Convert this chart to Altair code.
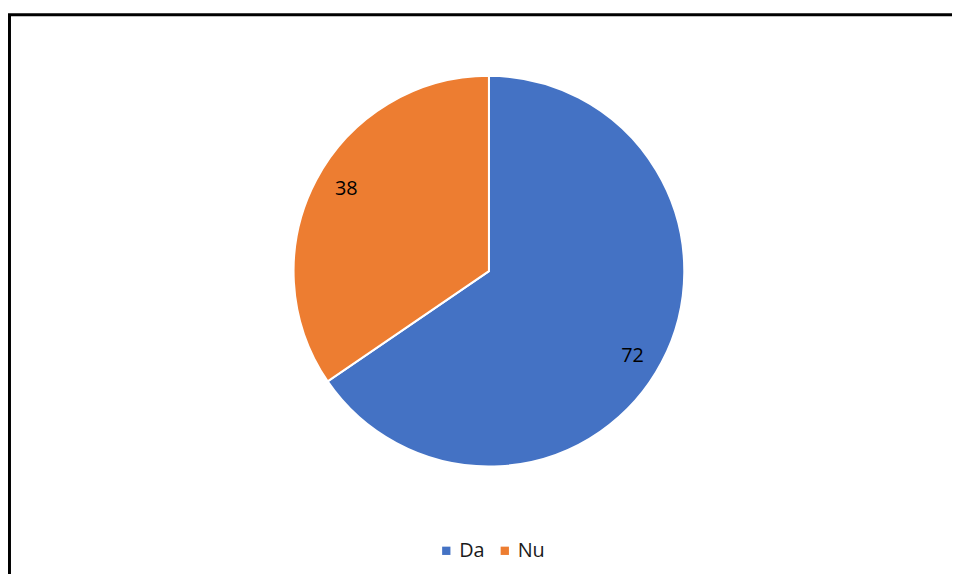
import altair as alt
import pandas as pd

categories = ["Da", "Nu"]
values = [72, 38]
colors = ["#4472C4", "#ED7D31"]

df = pd.DataFrame({"cat": categories, "val": values, "ord": [0, 1]})

W, H = 952, 566
CX, CY = 485, 263
R = 197

base = alt.Chart(df).encode(
    theta=alt.Theta("val:Q", stack=True),
    order=alt.Order("ord:Q"),
)

pie = base.mark_arc(outerRadius=R, stroke="white", strokeWidth=2).encode(
    x=alt.value(CX),
    y=alt.value(CY),
    color=alt.Color(
        "cat:N",
        scale=alt.Scale(domain=categories, range=colors),
        legend=alt.Legend(
            title=None,
            orient="none",
            legendX=432,
            legendY=535,
            direction="horizontal",
            symbolType="square",
            symbolSize=70,
            symbolStrokeWidth=0,
            labelFontSize=20,
            labelFont="Open Sans",
            labelColor="#1a1a1a",
            columnPadding=10,
            labelOffset=3,
        ),
    ),
)

labels = base.mark_text(
    radius=166, fontSize=20, font="Open Sans", color="#000000",
    dy=alt.expr("datum.cat == 'Da' ? 8 : -5"),
    dx=alt.expr("datum.cat == 'Da' ? -2 : 3"),
).encode(x=alt.value(CX), y=alt.value(CY), text=alt.Text("val:Q"))

border = alt.Chart(alt.Data(values=[{}])).mark_rect(
    fill=None, stroke="black", strokeWidth=3
).encode(
    x=alt.value(1.5), x2=alt.value(1200), y=alt.value(4.5), y2=alt.value(900)
)

chart = alt.layer(border, pie, labels).properties(
    width=W, height=H, padding=0, autosize=alt.AutoSizeParams(type="none"),
    background="white",
).configure_view(stroke=None)

chart.save("out.html", embed_options={"renderer": "svg", "actions": False})
